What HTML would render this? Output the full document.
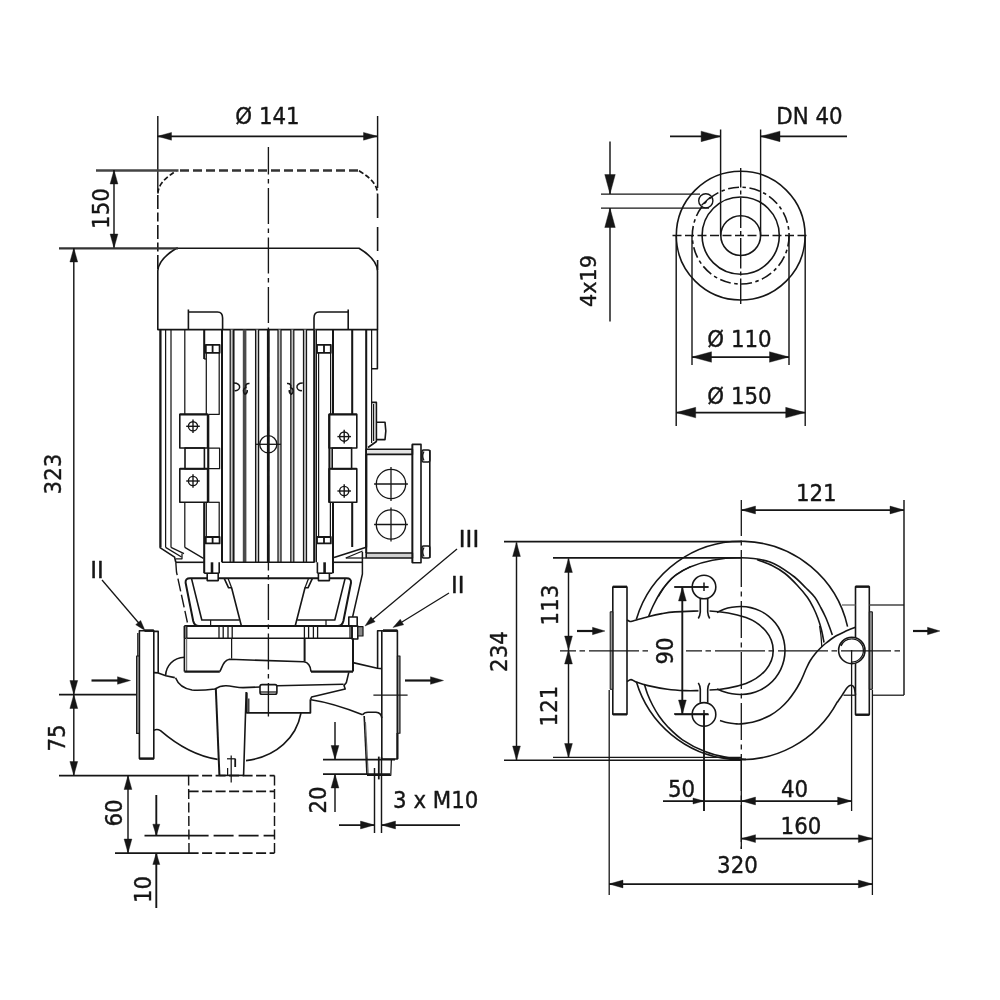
<!DOCTYPE html>
<html lang="en">
<head>
<meta charset="utf-8">
<title>Inline pump dimension drawing</title>
<style>
html,body{margin:0;padding:0;background:#fff;}
body{width:1000px;height:1000px;overflow:hidden;}
svg{display:block;}
svg line,svg path,svg rect,svg circle{fill:none;stroke:#161616;stroke-linecap:butt;stroke-linejoin:round;}
svg .ah{fill:#161616;stroke:#161616;stroke-width:0.4;stroke-linejoin:miter;}
svg .t{font-family:"DejaVu Sans","Liberation Sans",sans-serif;font-weight:400;fill:#161616;stroke:#161616;stroke-width:0.4px;stroke-linejoin:round;}
</style>
</head>
<body>
<svg width="1000" height="1000" viewBox="0 0 1000 1000">
<rect x="0" y="0" width="1000" height="1000" style="fill:#fff;stroke:none"/>
<g id="motor">
<path d="M180,170.5 L358,170.5" stroke-width="2.3" stroke-dasharray="9 4" style="stroke:#333"/>
<path d="M157.9,193.5 C158.3,185 164.5,178 176.5,170.8" stroke-width="1.7" stroke-dasharray="5 2.5"/>
<path d="M359,170.8 C371,178 377.2,185 377.5,193.5" stroke-width="1.7" stroke-dasharray="5 2.5"/>
<line x1="157.8" y1="195" x2="157.8" y2="270" stroke-width="1.6" stroke-dasharray="14 3.5 9 3.5"/>
<line x1="377.6" y1="194" x2="377.6" y2="270" stroke-width="1.6" stroke-dasharray="24 9"/>
<path d="M157.8,329.6 L157.8,271 C158.2,262.5 164.5,255.5 176.5,248.3 L359,248.3 C371,255.5 377.2,262.5 377.5,271 L377.5,329.6 Z" stroke-width="1.6"/>
<path d="M188.4,329.6 L188.4,309.6 M188.4,312 L217.5,312 Q222.6,312 222.6,318 L222.6,329.6" stroke-width="1.6"/>
<path d="M348.2,329.6 L348.2,309.6 M348.2,312 L319.1,312 Q314.0,312 314.0,318 L314.0,329.6" stroke-width="1.6"/>
<rect x="230.2" y="329.6" width="3.4" height="232.7" style="fill:#c2c2c2;stroke:none"/>
<rect x="255.6" y="329.6" width="3.0" height="232.7" style="fill:#c2c2c2;stroke:none"/>
<rect x="278" y="329.6" width="3" height="232.7" style="fill:#c2c2c2;stroke:none"/>
<rect x="290.8" y="329.6" width="3.0" height="232.7" style="fill:#c2c2c2;stroke:none"/>
<rect x="303.5" y="329.6" width="3.0" height="232.7" style="fill:#c2c2c2;stroke:none"/>
<rect x="314.2" y="329.6" width="2.2" height="232.7" style="fill:#c2c2c2;stroke:none"/>
<line x1="165.6" y1="329.6" x2="165.6" y2="547.4" stroke-width="1.25"/>
<line x1="371.6" y1="329.6" x2="371.6" y2="443" stroke-width="1.25"/>
<line x1="222" y1="329.6" x2="222" y2="562.3" stroke-width="2.05"/>
<line x1="230.2" y1="329.6" x2="230.2" y2="562.3" stroke-width="1.25"/>
<line x1="233.6" y1="329.6" x2="233.6" y2="562.3" stroke-width="1.9"/>
<line x1="244.6" y1="329.6" x2="244.6" y2="562.3" stroke-width="3.6" style="stroke:#4a4a4a"/>
<line x1="255.6" y1="329.6" x2="255.6" y2="562.3" stroke-width="1.25"/>
<line x1="258.6" y1="329.6" x2="258.6" y2="562.3" stroke-width="1.25"/>
<line x1="278" y1="329.6" x2="278" y2="562.3" stroke-width="1.25"/>
<line x1="281" y1="329.6" x2="281" y2="562.3" stroke-width="1.25"/>
<line x1="290.8" y1="329.6" x2="290.8" y2="562.3" stroke-width="1.25"/>
<line x1="293.8" y1="329.6" x2="293.8" y2="562.3" stroke-width="1.25"/>
<line x1="303.5" y1="329.6" x2="303.5" y2="562.3" stroke-width="1.25"/>
<line x1="306.5" y1="329.6" x2="306.5" y2="562.3" stroke-width="1.25"/>
<line x1="314.2" y1="329.6" x2="314.2" y2="562.3" stroke-width="2.05"/>
<line x1="316.4" y1="329.6" x2="316.4" y2="562.3" stroke-width="1.25"/>
<path d="M233.6,383 C238,383 240,385 239.6,387.5 C239.2,390 236.5,391 234.5,390.6" stroke-width="1.5"/>
<path d="M249.5,383.5 C246.5,383 245,385.5 246,387.5 C243,388.5 242.6,392 245,394.2 C246.5,393.5 247.5,392 247.2,390" stroke-width="1.5"/>
<path d="M302.8,383 C298.6,383 296.6,385 297,387.5 C297.4,390 300,391 302,390.6" stroke-width="1.5"/>
<path d="M287,383.5 C290,383 291.5,385.5 290.5,387.5 C293.5,388.5 294,392 291.5,394.2 C290,393.5 289,392 289.3,390" stroke-width="1.5"/>
<line x1="204.2" y1="329.6" x2="204.2" y2="359" stroke-width="2.05"/>
<line x1="204.2" y1="359" x2="206.3" y2="359" stroke-width="1.25"/>
<line x1="206.3" y1="353" x2="206.3" y2="414.4" stroke-width="1.25"/>
<line x1="219.2" y1="353" x2="219.2" y2="414.4" stroke-width="1.25"/>
<line x1="206.3" y1="502.3" x2="206.3" y2="537" stroke-width="1.25"/>
<line x1="219.2" y1="502.3" x2="219.2" y2="537" stroke-width="1.25"/>
<line x1="204.2" y1="502.3" x2="204.2" y2="573.2" stroke-width="2.05"/>
<line x1="333" y1="329.6" x2="333" y2="414.4" stroke-width="2.05"/>
<line x1="330.6" y1="353" x2="330.6" y2="414.4" stroke-width="1.25"/>
<line x1="318.6" y1="353" x2="318.6" y2="537" stroke-width="1.25"/>
<line x1="330.4" y1="502.3" x2="330.4" y2="537" stroke-width="1.25"/>
<line x1="333" y1="502.3" x2="333" y2="573.2" stroke-width="2.05"/>
<rect x="205.8" y="344.8" width="13.799999999999983" height="8.0" stroke-width="1.8"/>
<line x1="212.6" y1="344.8" x2="212.6" y2="352.8" stroke-width="1.8"/>
<rect x="205.8" y="537" width="13.799999999999983" height="6.399999999999977" stroke-width="1.8"/>
<line x1="212.6" y1="537" x2="212.6" y2="543.4" stroke-width="1.8"/>
<line x1="204.2" y1="573.2" x2="219.2" y2="573.2" stroke-width="1.6"/>
<line x1="219.2" y1="562.3" x2="219.2" y2="573.2" stroke-width="1.6"/>
<line x1="212" y1="562.3" x2="212" y2="573.2" stroke-width="2.6"/>
<path d="M207.2,573.2 L207.2,580.6 L218.2,580.6 L218.2,573.2" stroke-width="1.6"/>
<rect x="179.8" y="414.4" width="27.799999999999983" height="33.60000000000002" stroke-width="1.6"/>
<rect x="179.8" y="468.7" width="27.799999999999983" height="33.60000000000002" stroke-width="1.6"/>
<line x1="179.8" y1="414.4" x2="207.6" y2="414.4" stroke-width="1.9"/>
<line x1="179.8" y1="468.7" x2="207.6" y2="468.7" stroke-width="1.9"/>
<rect x="185" y="448" width="19.400000000000006" height="20.69999999999999" stroke-width="1.6"/>
<rect x="317.0" y="344.8" width="13.800000000000011" height="8.0" stroke-width="1.8"/>
<line x1="324.0" y1="344.8" x2="324.0" y2="352.8" stroke-width="1.8"/>
<rect x="317.0" y="537" width="13.800000000000011" height="6.399999999999977" stroke-width="1.8"/>
<line x1="324.0" y1="537" x2="324.0" y2="543.4" stroke-width="1.8"/>
<line x1="332.4" y1="573.2" x2="317.4" y2="573.2" stroke-width="1.6"/>
<line x1="317.4" y1="562.3" x2="317.4" y2="573.2" stroke-width="1.6"/>
<line x1="324.6" y1="562.3" x2="324.6" y2="573.2" stroke-width="2.6"/>
<path d="M329.4,573.2 L329.4,580.6 L318.4,580.6 L318.4,573.2" stroke-width="1.6"/>
<rect x="329.0" y="414.4" width="27.80000000000001" height="33.60000000000002" stroke-width="1.6"/>
<rect x="329.0" y="468.7" width="27.80000000000001" height="33.60000000000002" stroke-width="1.6"/>
<line x1="356.8" y1="414.4" x2="329.0" y2="414.4" stroke-width="1.9"/>
<line x1="356.8" y1="468.7" x2="329.0" y2="468.7" stroke-width="1.9"/>
<rect x="332.2" y="448" width="19.400000000000034" height="20.69999999999999" stroke-width="1.6"/>
<line x1="208.3" y1="414.4" x2="208.3" y2="502.3" stroke-width="2.05"/>
<line x1="208.3" y1="414.4" x2="219.6" y2="414.4" stroke-width="1.25"/>
<rect x="208.3" y="448" width="11.299999999999983" height="20.69999999999999" stroke-width="1.25"/>
<line x1="208.3" y1="502.3" x2="219.6" y2="502.3" stroke-width="1.25"/>
<line x1="329.4" y1="414.4" x2="329.4" y2="502.3" stroke-width="2.05"/>
<line x1="160.4" y1="329.6" x2="160.4" y2="547.4" stroke-width="2.3"/>
<line x1="171" y1="329.6" x2="171" y2="547.4" stroke-width="1.25"/>
<line x1="184.8" y1="329.6" x2="184.8" y2="414.4" stroke-width="1.25"/>
<line x1="184.8" y1="502.3" x2="184.8" y2="547.4" stroke-width="1.25"/>
<circle cx="193" cy="426.3" r="4.6" stroke-width="1.4"/>
<line x1="186.20000000000002" y1="426.3" x2="199.79999999999998" y2="426.3" stroke-width="1.4"/>
<line x1="193" y1="419.5" x2="193" y2="433.1" stroke-width="1.4"/>
<circle cx="193" cy="481" r="4.6" stroke-width="1.4"/>
<line x1="186.20000000000002" y1="481" x2="199.79999999999998" y2="481" stroke-width="1.4"/>
<line x1="193" y1="474.2" x2="193" y2="487.8" stroke-width="1.4"/>
<path d="M159.6,547.4 L174.6,557.2 L175.8,562.3" stroke-width="1.6"/>
<path d="M165.6,547.4 L181.5,557" stroke-width="1.25"/>
<path d="M175.8,558.8 L182,558.8 L182,553.6" stroke-width="1.25"/>
<path d="M171,547.4 L184,553.6" stroke-width="1.25"/>
<path d="M184.8,547.4 L203.4,558.4" stroke-width="1.25"/>
<line x1="352.2" y1="329.6" x2="352.2" y2="414.4" stroke-width="2.05"/>
<line x1="352.2" y1="502.3" x2="352.2" y2="547" stroke-width="2.05"/>
<line x1="366.2" y1="329.6" x2="366.2" y2="547.4" stroke-width="2.05"/>
<path d="M377.4,329.6 L377.4,368.8 L371.6,368.8" stroke-width="1.6"/>
<circle cx="344.2" cy="436.6" r="4.6" stroke-width="1.4"/>
<line x1="337.4" y1="436.6" x2="351.0" y2="436.6" stroke-width="1.4"/>
<line x1="344.2" y1="429.8" x2="344.2" y2="443.40000000000003" stroke-width="1.4"/>
<circle cx="344.2" cy="491" r="4.6" stroke-width="1.4"/>
<line x1="337.4" y1="491" x2="351.0" y2="491" stroke-width="1.4"/>
<line x1="344.2" y1="484.2" x2="344.2" y2="497.8" stroke-width="1.4"/>
<path d="M371.6,402.4 L376.4,402.4 L376.4,441.5 L368,447.5" stroke-width="1.6"/>
<path d="M373.6,404 L373.6,441" stroke-width="1.25"/>
<path d="M376.4,422.2 L385,422.2 Q386.6,431 385,439.6 L376.4,439.6" stroke-width="1.6"/>
<line x1="268.3" y1="329.6" x2="268.3" y2="562.3" stroke-width="2.8"/>
<circle cx="268.3" cy="444.3" r="8.6" stroke-width="1.3"/>
<line x1="255.7" y1="444.3" x2="280.90000000000003" y2="444.3" stroke-width="1.3"/>
<line x1="268.3" y1="431.7" x2="268.3" y2="456.90000000000003" stroke-width="1.3"/>
<line x1="175.8" y1="562.3" x2="204" y2="562.3" stroke-width="1.6"/>
<line x1="222" y1="562.3" x2="314.6" y2="562.3" stroke-width="1.6"/>
<line x1="333.4" y1="562.3" x2="362.4" y2="562.3" stroke-width="1.6"/>
<path d="M366.2,547.2 L334,557.6" stroke-width="1.6"/>
<path d="M362.6,551 L345.8,558" stroke-width="1.25"/>
<line x1="345.8" y1="558" x2="366" y2="558" stroke-width="1.25"/>
<rect x="366.2" y="449.3" width="46.19999999999999" height="5.099999999999966" stroke-width="1.6" style="fill:#e4e4e4"/>
<line x1="366.2" y1="454.4" x2="366.2" y2="553" stroke-width="2.05"/>
<line x1="412.4" y1="444.4" x2="412.4" y2="562.8" stroke-width="1.6"/>
<rect x="366.2" y="553" width="46.19999999999999" height="5" stroke-width="1.6" style="fill:#d0d0d0"/>
<rect x="412.4" y="444.4" width="8.600000000000023" height="118.39999999999998" stroke-width="1.6"/>
<line x1="429.8" y1="450" x2="429.8" y2="558" stroke-width="1.6"/>
<rect x="422" y="450" width="7.800000000000011" height="12" stroke-width="1.6" rx="1.5"/>
<rect x="422" y="546" width="7.800000000000011" height="12" stroke-width="1.6" rx="1.5"/>
<path d="M424,451.5 q-2.5,4.5 0,9" stroke-width="1.25"/>
<path d="M424,547.5 q-2.5,4.5 0,9" stroke-width="1.25"/>
<circle cx="391" cy="484" r="14.7" stroke-width="1.3"/>
<line x1="374.1" y1="484" x2="407.9" y2="484" stroke-width="1.3"/>
<line x1="391" y1="467.1" x2="391" y2="500.9" stroke-width="1.3"/>
<circle cx="391" cy="524.5" r="14.7" stroke-width="1.3"/>
<line x1="374.1" y1="524.5" x2="407.9" y2="524.5" stroke-width="1.3"/>
<line x1="391" y1="507.6" x2="391" y2="541.4000000000001" stroke-width="1.3"/>
</g>
<g id="lantern">
<path d="M175.8,562.3 L176.5,572 L187.4,622.5" stroke-width="1.4" stroke-dasharray="13 3.5"/>
<path d="M362.4,552 L362.4,574 L352.6,617" stroke-width="1.5"/>
<path d="M207.2,578.3 L190,578.3 Q185.2,578.3 185.6,582.8 L193.2,621 Q194.4,626 199,626" stroke-width="2.0"/>
<path d="M191.6,578.9 L201.8,620 L239.4,620" stroke-width="1.6"/>
<path d="M224.2,578.3 L228.6,587.8 L231.6,587.8 L241.4,626" stroke-width="1.6"/>
<path d="M228,578.3 L231.6,587.8" stroke-width="1.25"/>
<line x1="210.6" y1="620" x2="210.6" y2="626" stroke-width="1.25"/>
<line x1="219" y1="626" x2="219" y2="638.3" stroke-width="1.3"/>
<line x1="223.2" y1="626" x2="223.2" y2="638.3" stroke-width="1.3"/>
<line x1="228" y1="626" x2="228" y2="638.3" stroke-width="1.3"/>
<line x1="232.2" y1="626" x2="232.2" y2="638.3" stroke-width="1.3"/>
<line x1="186.6" y1="626" x2="186.6" y2="638.3" stroke-width="1.25"/>
<path d="M329.4,578.3 L346.6,578.3 Q351.4,578.3 351.0,582.8 L343.4,621 Q342.2,626 337.6,626" stroke-width="2.0"/>
<path d="M345.0,578.9 L334.8,620 L297.2,620" stroke-width="1.6"/>
<path d="M312.4,578.3 L308.0,587.8 L305.0,587.8 L295.2,626" stroke-width="1.6"/>
<path d="M308.6,578.3 L305.0,587.8" stroke-width="1.25"/>
<line x1="326.0" y1="620" x2="326.0" y2="626" stroke-width="1.25"/>
<line x1="317.6" y1="626" x2="317.6" y2="638.3" stroke-width="1.3"/>
<line x1="313.4" y1="626" x2="313.4" y2="638.3" stroke-width="1.3"/>
<line x1="308.6" y1="626" x2="308.6" y2="638.3" stroke-width="1.3"/>
<line x1="304.4" y1="626" x2="304.4" y2="638.3" stroke-width="1.3"/>
<line x1="350.0" y1="626" x2="350.0" y2="638.3" stroke-width="1.25"/>
<line x1="218.2" y1="578.3" x2="318.4" y2="578.3" stroke-width="2.0"/>
<line x1="184.4" y1="626" x2="352" y2="626" stroke-width="2.0"/>
<line x1="184.4" y1="638.3" x2="352" y2="638.3" stroke-width="1.6"/>
<rect x="184.4" y="626" width="2.4000000000000057" height="12.299999999999955" stroke-width="1.0" style="fill:#9a9a9a"/>
<line x1="184.4" y1="626" x2="184.4" y2="638.3" stroke-width="1.6"/>
<line x1="352" y1="626" x2="352" y2="638.3" stroke-width="1.6"/>
<rect x="348.8" y="617" width="8.399999999999977" height="9" stroke-width="1.6"/>
<rect x="352" y="626" width="5.800000000000011" height="13" stroke-width="1.6"/>
<rect x="357.8" y="626.6" width="5.199999999999989" height="9.399999999999977" stroke-width="1.2" style="fill:#888"/>
</g>
<g id="pump-front">
<rect x="139.4" y="630.8" width="14.400000000000006" height="127.80000000000007" stroke-width="1.6"/>
<line x1="144.5" y1="630.6" x2="153.8" y2="630.6" stroke-width="2.6"/>
<line x1="139.4" y1="758.6" x2="153.8" y2="758.6" stroke-width="2.2"/>
<line x1="137.8" y1="633" x2="137.8" y2="656" stroke-width="1.25"/>
<rect x="136.6" y="656" width="2.8000000000000114" height="77.39999999999998" stroke-width="1.1" style="fill:#8a8a8a"/>
<path d="M153.8,631.4 L158.2,631.4 L158.2,672.8" stroke-width="1.6"/>
<path d="M153.8,672.6 L158.2,672.9 L165.8,675.8 L174.8,677.6" stroke-width="1.6"/>
<path d="M165.6,675.6 C166,666 173,657.8 184.4,657.3" stroke-width="1.6"/>
<path d="M175.5,677.8 C178,684 183,688.6 192,690 C200,690.6 208,689.8 215,689 C218,687 221,685.7 226,685.8 C232,686 237,687.6 243,687.6 L260,687" stroke-width="1.6"/>
<path d="M153.8,730.4 C156,729 158.5,729.4 160.5,730.6 C176,744 196,756 217.6,759.4" stroke-width="1.6"/>
<line x1="184.4" y1="638.3" x2="184.4" y2="671.6" stroke-width="1.6"/>
<line x1="186.6" y1="638.3" x2="186.6" y2="671.6" stroke-width="1.25" style="stroke:#777"/>
<line x1="184.4" y1="671.6" x2="219.8" y2="671.6" stroke-width="2.4"/>
<line x1="231.6" y1="638.3" x2="231.6" y2="658.6" stroke-width="1.25"/>
<path d="M219.8,671.6 C222.5,667 223,660.5 229.4,659.3 L303.8,661.8 C309,662.5 310.6,667 311,671.6" stroke-width="1.6"/>
<line x1="304.6" y1="638.3" x2="304.6" y2="661.6" stroke-width="2.0"/>
<line x1="311" y1="671.6" x2="353" y2="671.6" stroke-width="2.4"/>
<line x1="353" y1="638.3" x2="353" y2="671.6" stroke-width="2.0"/>
<path d="M277,685.8 L343.6,684.2" stroke-width="1.6"/>
<path d="M348.8,672.4 L346.4,682.4 L344,685.4 L345.2,689 L311.6,697 L310.4,699.6" stroke-width="1.6"/>
<path d="M262,684.6 L275,684.6 Q276.9,684.6 276.9,686.6 L276.9,692.2 Q276.9,694.3 275,694.3 L262,694.3 Q260,694.3 260,692.2 L260,686.6 Q260,684.6 262,684.6 Z" stroke-width="1.6"/>
<line x1="260" y1="692" x2="276.9" y2="692" stroke-width="1.25"/>
<path d="M246.8,692.4 L246.8,712.8 L310.4,712.8 L310.4,699.6" stroke-width="1.8"/>
<line x1="248.8" y1="698.4" x2="248.8" y2="712.8" stroke-width="1.25"/>
<line x1="215.8" y1="688" x2="219.4" y2="775" stroke-width="2.0"/>
<line x1="246.2" y1="692" x2="243.6" y2="775" stroke-width="1.6"/>
<path d="M301,713 C296.5,737 277,757 246,760.6" stroke-width="1.6"/>
<line x1="231.2" y1="755.6" x2="231.2" y2="782.6" stroke-width="1.25"/>
<line x1="227" y1="758.8" x2="235.6" y2="758.8" stroke-width="1.25"/>
<line x1="235.2" y1="759" x2="235.2" y2="767" stroke-width="1.8"/>
<line x1="227.6" y1="768" x2="227.6" y2="775" stroke-width="1.25"/>
<line x1="219.4" y1="775.4" x2="244" y2="775.4" stroke-width="1.6"/>
<path d="M353,662.6 L377.4,668.2 L381.8,668.6" stroke-width="1.6"/>
<path d="M311,699.8 C330,702.6 348,709 362.6,714.8" stroke-width="1.6"/>
<path d="M362.6,714.8 C364,712.6 366,712.2 368,712.2 L376,712.3 C379.5,712.6 381.4,714.5 381.8,718" stroke-width="1.6"/>
<line x1="364.2" y1="716" x2="367" y2="775" stroke-width="1.6"/>
<line x1="365.4" y1="722" x2="368.2" y2="775" stroke-width="1.25" style="stroke:#666"/>
<path d="M381.8,630.8 L377.6,630.8 L377.6,668.4" stroke-width="1.6"/>
<rect x="381.8" y="630.8" width="15.599999999999966" height="128.20000000000005" stroke-width="1.6"/>
<line x1="383" y1="630.6" x2="397.4" y2="630.6" stroke-width="2.6"/>
<line x1="397.4" y1="733" x2="397.4" y2="759" stroke-width="2.0"/>
<rect x="397.4" y="656" width="2.6000000000000227" height="77.20000000000005" stroke-width="1.1" style="fill:#8a8a8a"/>
<line x1="373.4" y1="695" x2="407.6" y2="695" stroke-width="1.25"/>
<path d="M367,775.3 L390.8,775.3 L391.4,759.4" stroke-width="1.25"/>
<line x1="378.8" y1="756.6" x2="378.8" y2="779.4" stroke-width="1.8"/>
</g>
<g id="flange">
<circle cx="740.7" cy="235.6" r="64.4" stroke-width="1.6"/>
<circle cx="740.7" cy="235.6" r="48.4" stroke-width="1.6" stroke-dasharray="11 3.5 3.5 3.5"/>
<circle cx="740.7" cy="235.6" r="38.6" stroke-width="1.6"/>
<circle cx="740.7" cy="235.6" r="19.9" stroke-width="1.6"/>
<circle cx="705.8" cy="200.8" r="7.1" stroke-width="1.4"/>
<line x1="701.6" y1="205.2" x2="710.2" y2="197.2" stroke-width="1.3"/>
</g>
<g id="topview">
<path d="M636.29,619.50 A109.2,109.2 0 0 1 847.56,626.64" stroke-width="1.6"/>
<path d="M837.34,701.91 A109.2,109.2 0 0 1 636.29,681.50" stroke-width="1.6"/>
<path d="M648.70,616.30 C649.42,614.58 651.12,609.88 653.00,606.00 C654.88,602.12 657.67,596.75 660.00,593.00 C662.33,589.25 664.50,586.40 667.00,583.50 C669.50,580.60 671.17,578.35 675.00,575.60 C678.83,572.85 683.75,569.57 690.00,567.00 C696.25,564.43 704.00,561.73 712.50,560.20 C721.00,558.67 731.42,557.50 741.00,557.80 C750.58,558.10 761.42,559.05 770.00,562.00 C778.58,564.95 786.50,571.17 792.50,575.50 C798.50,579.83 802.25,584.33 806.00,588.00 C809.75,591.67 812.50,594.17 815.00,597.50 C817.50,600.83 819.25,604.75 821.00,608.00 C822.75,611.25 824.08,613.83 825.50,617.00 C826.92,620.17 828.37,624.00 829.50,627.00 C830.63,630.00 831.83,633.67 832.30,635.00" stroke-width="1.6"/>
<path d="M658.50,596.50 C659.75,594.58 662.92,588.75 666.00,585.00 C669.08,581.25 672.92,577.07 677.00,574.00 C681.08,570.93 688.25,567.83 690.50,566.60" stroke-width="1.2"/>
<path d="M757.00,559.60 C759.50,560.58 767.33,563.18 772.00,565.50 C776.67,567.82 780.83,570.25 785.00,573.50 C789.17,576.75 793.25,581.00 797.00,585.00 C800.75,589.00 804.75,593.67 807.50,597.50 C810.25,601.33 811.75,604.50 813.50,608.00 C815.25,611.50 816.67,614.83 818.00,618.50 C819.33,622.17 820.50,626.00 821.50,630.00 C822.50,634.00 823.58,640.42 824.00,642.50" stroke-width="1.6"/>
<path d="M819.60,626.00 C819.83,627.67 820.63,632.50 821.00,636.00 C821.37,639.50 821.67,645.17 821.80,647.00" stroke-width="1.25"/>
<path d="M644.30,684.00 C644.83,685.67 646.13,690.50 647.50,694.00 C648.87,697.50 650.58,701.33 652.50,705.00 C654.42,708.67 656.50,712.42 659.00,716.00 C661.50,719.58 663.58,722.53 667.50,726.50 C671.42,730.47 676.25,735.62 682.50,739.80 C688.75,743.98 697.50,748.63 705.00,751.60 C712.50,754.57 720.67,756.30 727.50,757.60 C734.33,758.90 742.92,759.10 746.00,759.40" stroke-width="1.6"/>
<path d="M627.00,620.00 C627.42,620.20 628.67,621.00 629.50,621.20 C630.33,621.40 628.92,621.95 632.00,621.20 C635.08,620.45 643.00,617.97 648.00,616.70 C653.00,615.43 657.50,614.40 662.00,613.60 C666.50,612.80 668.92,612.33 675.00,611.90 C681.08,611.47 694.58,611.15 698.50,611.00" stroke-width="1.6"/>
<path d="M709.5,611 C722,611.4 735,613.8 746,617.6 C762,623.5 773.2,636 773.2,650.5 C773.2,665 762,677.5 746,683.4 C735,687.2 722,689.6 709.5,690" stroke-width="1.6"/>
<path d="M698.50,690.60 C696.25,690.60 690.17,690.83 685.00,690.60 C679.83,690.37 673.67,690.03 667.50,689.20 C661.33,688.37 653.25,686.82 648.00,685.60 C642.75,684.38 638.83,682.90 636.00,681.90 C633.17,680.90 632.50,679.65 631.00,679.60 C629.50,679.55 627.67,681.27 627.00,681.60" stroke-width="1.6"/>
<path d="M717.00,612.40 C718.17,611.87 721.50,610.05 724.00,609.20 C726.50,608.35 729.17,607.75 732.00,607.30 C734.83,606.85 737.87,606.45 741.00,606.50 C744.13,606.55 747.61,606.88 750.79,607.60 C753.97,608.33 757.15,609.44 760.09,610.86 C763.03,612.27 765.88,614.06 768.43,616.10 C770.99,618.13 773.37,620.51 775.40,623.07 C777.44,625.62 779.23,628.47 780.64,631.41 C782.06,634.35 783.17,637.53 783.90,640.71 C784.62,643.89 785.00,647.24 785.00,650.50 C785.00,653.76 784.62,657.11 783.90,660.29 C783.17,663.47 782.06,666.65 780.64,669.59 C779.23,672.53 777.44,675.38 775.40,677.93 C773.37,680.49 770.99,682.87 768.43,684.90 C765.88,686.94 763.03,688.73 760.09,690.14 C757.15,691.56 753.97,692.67 750.79,693.40 C747.61,694.12 744.13,694.43 741.00,694.50 C737.87,694.57 734.83,694.25 732.00,693.80 C729.17,693.35 726.50,692.62 724.00,691.80 C721.50,690.98 718.17,689.38 717.00,688.90" stroke-width="1.6"/>
<path d="M720.00,720.60 C721.33,720.97 725.50,722.28 728.00,722.80 C730.50,723.32 732.83,723.52 735.00,723.70 C737.17,723.88 737.67,724.27 741.00,723.90 C744.33,723.53 750.17,722.90 755.00,721.50 C759.83,720.10 765.83,717.67 770.00,715.50 C774.17,713.33 777.00,711.00 780.00,708.50 C783.00,706.00 785.50,703.42 788.00,700.50 C790.50,697.58 793.00,694.00 795.00,691.00 C797.00,688.00 798.58,685.17 800.00,682.50 C801.42,679.83 802.50,677.25 803.50,675.00 C804.50,672.75 804.92,671.33 806.00,669.00 C807.08,666.67 808.50,663.50 810.00,661.00 C811.50,658.50 813.33,656.08 815.00,654.00 C816.67,651.92 818.25,650.25 820.00,648.50 C821.75,646.75 823.00,645.50 825.50,643.50 C828.00,641.50 831.75,638.50 835.00,636.50 C838.25,634.50 841.58,633.03 845.00,631.50 C848.42,629.97 853.75,628.00 855.50,627.30" stroke-width="1.6"/>
<circle cx="704" cy="587" r="11.8" stroke-width="1.6"/>
<line x1="675" y1="587" x2="708.8" y2="587" stroke-width="1.7"/>
<line x1="704" y1="582.5" x2="704" y2="591" stroke-width="1.5"/>
<path d="M700.3,598.6 L700.3,612 Q700,616 698.3,618.5" stroke-width="1.6"/>
<path d="M707.7,598.6 L707.7,612 Q708,616 709.7,618.5" stroke-width="1.6"/>
<circle cx="704" cy="714.4" r="11.8" stroke-width="1.6"/>
<line x1="675" y1="714.4" x2="708.8" y2="714.4" stroke-width="1.7"/>
<line x1="704" y1="709.9" x2="704" y2="718.4" stroke-width="1.5"/>
<path d="M700.3,702.8 L700.3,689.4 Q700,685.4 698.3,682.9" stroke-width="1.6"/>
<path d="M707.7,702.8 L707.7,689.4 Q708,685.4 709.7,682.9" stroke-width="1.6"/>
<rect x="612.8" y="587" width="14.200000000000045" height="127.20000000000005" stroke-width="1.6"/>
<line x1="612.8" y1="586.8" x2="627" y2="586.8" stroke-width="2.4"/>
<line x1="612.8" y1="714.4" x2="627" y2="714.4" stroke-width="2.2"/>
<rect x="610.2" y="611.8" width="2.599999999999909" height="77.5" stroke-width="1.0" style="fill:#999"/>
<rect x="855.5" y="586.8" width="13.799999999999955" height="127.80000000000007" stroke-width="1.6"/>
<line x1="855.5" y1="586.6" x2="869.3" y2="586.6" stroke-width="2.4"/>
<line x1="855.5" y1="714.8" x2="869.3" y2="714.8" stroke-width="2.2"/>
<rect x="869.3" y="611.8" width="3.1000000000000227" height="77.5" stroke-width="1.0" style="fill:#8a8a8a"/>
<circle cx="851.8" cy="650.4" r="13.2" stroke-width="1.6" style="fill:#fff"/>
<path d="M851.8,638.8 A11.6,11.6 0 0 1 851.8,662" stroke-width="1.25"/>
<path d="M851.8,638.8 A11.6,11.6 0 0 0 841,646" stroke-width="1.25"/>
<line x1="842" y1="605" x2="855.5" y2="605" stroke-width="1.3" style="stroke:#666"/>
<line x1="869.3" y1="605" x2="904" y2="605" stroke-width="1.3" style="stroke:#444"/>
<line x1="843.5" y1="695.2" x2="855.5" y2="695.2" stroke-width="1.25"/>
<line x1="872.4" y1="695.2" x2="904" y2="695.2" stroke-width="1.25"/>
<path d="M837.30,702.20 C837.88,701.37 839.68,698.85 840.80,697.20 C841.92,695.55 842.88,693.97 844.00,692.30 C845.12,690.63 846.33,688.37 847.50,687.20 C848.67,686.03 849.88,685.23 851.00,685.30 C852.12,685.37 853.45,685.98 854.20,687.60 C854.95,689.22 855.28,693.77 855.50,695.00" stroke-width="1.6"/>
</g>
<g id="dims-front" opacity="0.999">
<line x1="157.8" y1="116" x2="157.8" y2="192" stroke-width="1.45"/>
<line x1="377.6" y1="116" x2="377.6" y2="188" stroke-width="1.45"/>
<line x1="157.5" y1="136.3" x2="377.5" y2="136.3" stroke-width="1.75"/>
<path d="M157.50,136.30 L171.50,132.40 L171.50,140.20 Z" class="ah"/>
<path d="M377.50,136.30 L363.50,140.20 L363.50,132.40 Z" class="ah"/>
<text class="t" transform="translate(267.5,124.4) scale(0.95,1)" font-size="22.5" text-anchor="middle">Ø 141</text>
<line x1="268.4" y1="147" x2="268.4" y2="716.5" stroke-width="1.35" stroke-dasharray="36 4.5 4.5 4.5" stroke-dashoffset="8.5"/>
<line x1="96" y1="170.5" x2="178.5" y2="170.5" stroke-width="2.4" style="stroke:#444"/>
<line x1="114" y1="170" x2="114" y2="248" stroke-width="1.45"/>
<path d="M114.00,170.00 L117.90,184.00 L110.10,184.00 Z" class="ah"/>
<path d="M114.00,248.00 L110.10,234.00 L117.90,234.00 Z" class="ah"/>
<text class="t" transform="translate(108.5,208.5) rotate(-90) scale(0.95,1)" font-size="22.5" text-anchor="middle">150</text>
<line x1="59" y1="248.3" x2="178" y2="248.3" stroke-width="2.2" style="stroke:#333"/>
<line x1="73.8" y1="248" x2="73.8" y2="694.5" stroke-width="1.45"/>
<path d="M73.80,248.00 L77.70,262.00 L69.90,262.00 Z" class="ah"/>
<path d="M73.80,694.50 L69.90,680.50 L77.70,680.50 Z" class="ah"/>
<text class="t" transform="translate(60.8,474) rotate(-90) scale(0.95,1)" font-size="22.5" text-anchor="middle">323</text>
<line x1="59" y1="694.5" x2="136" y2="694.5" stroke-width="1.75"/>
<line x1="73.8" y1="694.5" x2="73.8" y2="775.5" stroke-width="1.45"/>
<path d="M73.80,694.50 L77.70,708.50 L69.90,708.50 Z" class="ah"/>
<path d="M73.80,775.50 L69.90,761.50 L77.70,761.50 Z" class="ah"/>
<text class="t" transform="translate(64.5,738) rotate(-90) scale(0.95,1)" font-size="22.5" text-anchor="middle">75</text>
<line x1="59" y1="775.5" x2="189" y2="775.5" stroke-width="1.75"/>
<line x1="128" y1="775.5" x2="128" y2="853" stroke-width="1.45"/>
<path d="M128.00,775.50 L131.90,789.50 L124.10,789.50 Z" class="ah"/>
<path d="M128.00,853.00 L124.10,839.00 L131.90,839.00 Z" class="ah"/>
<text class="t" transform="translate(122,813) rotate(-90) scale(0.95,1)" font-size="22.5" text-anchor="middle">60</text>
<line x1="144.5" y1="835.7" x2="189" y2="835.7" stroke-width="1.75"/>
<line x1="115" y1="853" x2="189" y2="853" stroke-width="1.75"/>
<line x1="156.3" y1="795" x2="156.3" y2="835.7" stroke-width="1.9"/>
<line x1="156.3" y1="853" x2="156.3" y2="908" stroke-width="1.9"/>
<path d="M156.30,835.70 L152.80,824.20 L159.80,824.20 Z" class="ah"/>
<path d="M156.30,853.00 L159.80,864.50 L152.80,864.50 Z" class="ah"/>
<text class="t" transform="translate(150.5,889.5) rotate(-90) scale(0.95,1)" font-size="22.5" text-anchor="middle">10</text>
<line x1="188.6" y1="775.5" x2="274.5" y2="775.5" stroke-width="1.75" stroke-dasharray="10 3.5"/>
<line x1="188.6" y1="791.3" x2="274.5" y2="791.3" stroke-width="1.75" stroke-dasharray="10 3.5"/>
<line x1="188.6" y1="835.7" x2="274.5" y2="835.7" stroke-width="1.75" stroke-dasharray="20 5"/>
<line x1="188.6" y1="853" x2="274.5" y2="853" stroke-width="1.75" stroke-dasharray="10 3.5"/>
<line x1="188.6" y1="775.5" x2="189" y2="853" stroke-width="1.45" stroke-dasharray="10 3.5"/>
<line x1="274.5" y1="775.5" x2="274.5" y2="853" stroke-width="1.45" stroke-dasharray="10 3.5"/>
<line x1="323" y1="759.5" x2="395" y2="759.5" stroke-width="1.75"/>
<line x1="323" y1="774" x2="390" y2="774" stroke-width="1.75"/>
<line x1="335" y1="722" x2="335" y2="759.5" stroke-width="1.45"/>
<line x1="335" y1="774" x2="335" y2="812" stroke-width="1.45"/>
<path d="M335.00,759.50 L331.10,745.50 L338.90,745.50 Z" class="ah"/>
<path d="M335.00,774.00 L338.90,788.00 L331.10,788.00 Z" class="ah"/>
<text class="t" transform="translate(326,800) rotate(-90) scale(0.95,1)" font-size="22.5" text-anchor="middle">20</text>
<line x1="374.5" y1="768" x2="374.5" y2="833" stroke-width="1.45"/>
<line x1="381.5" y1="757" x2="381.5" y2="833" stroke-width="1.45"/>
<line x1="339" y1="825" x2="374.5" y2="825" stroke-width="1.75"/>
<line x1="381.5" y1="825" x2="460" y2="825" stroke-width="1.75"/>
<path d="M374.50,825.00 L360.50,828.90 L360.50,821.10 Z" class="ah"/>
<path d="M381.50,825.00 L395.50,821.10 L395.50,828.90 Z" class="ah"/>
<text class="t" transform="translate(393,807.9) scale(0.95,1)" font-size="22.5" text-anchor="start">3 x M10</text>
<line x1="91.5" y1="680.5" x2="120" y2="680.5" stroke-width="2.2"/>
<path d="M130.50,680.50 L117.50,684.30 L117.50,676.70 Z" class="ah"/>
<line x1="405" y1="680.5" x2="432" y2="680.5" stroke-width="2.2"/>
<path d="M443.50,680.50 L430.50,684.30 L430.50,676.70 Z" class="ah"/>
<text class="t" transform="translate(97,577.5)" font-size="23" text-anchor="middle">II</text>
<line x1="102" y1="580" x2="143" y2="628" stroke-width="1.3"/>
<path d="M145.00,630.50 L135.71,624.63 L140.65,620.41 Z" class="ah"/>
<text class="t" transform="translate(469,546.5)" font-size="23" text-anchor="middle">III</text>
<line x1="457" y1="549" x2="372" y2="620" stroke-width="1.3"/>
<path d="M365.00,626.00 L370.95,616.76 L375.13,621.74 Z" class="ah"/>
<text class="t" transform="translate(457.7,593.1)" font-size="23" text-anchor="middle">II</text>
<line x1="449" y1="593" x2="402" y2="622" stroke-width="1.3"/>
<path d="M393.00,627.50 L400.25,619.24 L403.65,624.78 Z" class="ah"/>
</g>
<g id="dims-flange" opacity="0.999">
<line x1="720.6" y1="129.5" x2="720.6" y2="235.6" stroke-width="1.45"/>
<line x1="760.6" y1="129.5" x2="760.6" y2="235.6" stroke-width="1.4"/>
<line x1="670" y1="136.4" x2="720.6" y2="136.4" stroke-width="1.75"/>
<line x1="760.5" y1="136.4" x2="847" y2="136.4" stroke-width="1.75"/>
<path d="M720.60,136.40 L701.10,141.65 L701.10,131.15 Z" class="ah"/>
<path d="M760.50,136.40 L780.00,131.15 L780.00,141.65 Z" class="ah"/>
<text class="t" transform="translate(809.5,124.4) scale(0.95,1)" font-size="22.5" text-anchor="middle">DN 40</text>
<line x1="601" y1="194.2" x2="700" y2="194.2" stroke-width="1.3"/>
<line x1="601" y1="208.2" x2="709" y2="208.2" stroke-width="1.3"/>
<line x1="610" y1="141.5" x2="610" y2="194" stroke-width="1.45"/>
<line x1="610" y1="208" x2="610" y2="321.5" stroke-width="1.45"/>
<path d="M610.00,194.00 L604.75,174.50 L615.25,174.50 Z" class="ah"/>
<path d="M610.00,208.00 L615.25,227.50 L604.75,227.50 Z" class="ah"/>
<text class="t" transform="translate(595.6,281) rotate(-90) scale(0.95,1)" font-size="22" text-anchor="middle">4x19</text>
<line x1="672.5" y1="235.6" x2="809" y2="235.6" stroke-width="1.5" stroke-dasharray="9 3.5"/>
<line x1="740.7" y1="168" x2="740.7" y2="304" stroke-width="1.4" stroke-dasharray="30.5 3 4 3" stroke-dashoffset="11"/>
<line x1="692" y1="235.6" x2="692" y2="365" stroke-width="1.4"/>
<line x1="789" y1="235.6" x2="789" y2="365" stroke-width="1.45"/>
<line x1="692" y1="357" x2="789" y2="357" stroke-width="1.75"/>
<path d="M692.00,357.00 L711.50,351.75 L711.50,362.25 Z" class="ah"/>
<path d="M789.00,357.00 L769.50,362.25 L769.50,351.75 Z" class="ah"/>
<text class="t" transform="translate(739.5,346.9) scale(0.95,1)" font-size="22.5" text-anchor="middle">Ø 110</text>
<line x1="676.2" y1="235.6" x2="676.2" y2="426" stroke-width="1.45"/>
<line x1="805.2" y1="235.6" x2="805.2" y2="426" stroke-width="1.4"/>
<line x1="676.2" y1="412.6" x2="805.2" y2="412.6" stroke-width="1.75"/>
<path d="M676.20,412.60 L695.70,407.35 L695.70,417.85 Z" class="ah"/>
<path d="M805.20,412.60 L785.70,417.85 L785.70,407.35 Z" class="ah"/>
<text class="t" transform="translate(739.5,403.9) scale(0.95,1)" font-size="22.5" text-anchor="middle">Ø 150</text>
</g>
<g id="dims-top" opacity="0.999">
<line x1="741.3" y1="500" x2="741.3" y2="849" stroke-width="1.3" stroke-dasharray="37 4.5 5 4.5" stroke-dashoffset="1"/>
<line x1="904" y1="500" x2="904" y2="695" stroke-width="1.45"/>
<line x1="741.5" y1="510" x2="904" y2="510" stroke-width="1.75"/>
<path d="M741.50,510.00 L755.50,506.10 L755.50,513.90 Z" class="ah"/>
<path d="M904.00,510.00 L890.00,513.90 L890.00,506.10 Z" class="ah"/>
<text class="t" transform="translate(816.3,500.9) scale(0.95,1)" font-size="22.5" text-anchor="middle">121</text>
<line x1="741.3" y1="760" x2="741.3" y2="849" stroke-width="1.3"/>
<line x1="504" y1="541.6" x2="741" y2="541.6" stroke-width="1.75"/>
<line x1="504" y1="760.2" x2="741" y2="760.2" stroke-width="1.6"/>
<line x1="516.5" y1="542.5" x2="516.5" y2="760" stroke-width="1.45"/>
<path d="M516.50,542.50 L520.40,556.50 L512.60,556.50 Z" class="ah"/>
<path d="M516.50,760.00 L512.60,746.00 L520.40,746.00 Z" class="ah"/>
<text class="t" transform="translate(506.5,651.5) rotate(-90) scale(0.95,1)" font-size="22.5" text-anchor="middle">234</text>
<line x1="553" y1="557.9" x2="741" y2="557.9" stroke-width="1.75"/>
<line x1="553" y1="757.3" x2="741" y2="757.3" stroke-width="1.2"/>
<line x1="568.5" y1="558.5" x2="568.5" y2="757.5" stroke-width="1.45"/>
<path d="M568.50,558.50 L572.40,572.50 L564.60,572.50 Z" class="ah"/>
<path d="M568.50,650.00 L564.60,636.00 L572.40,636.00 Z" class="ah"/>
<path d="M568.50,650.00 L572.40,664.00 L564.60,664.00 Z" class="ah"/>
<path d="M568.50,757.50 L564.60,743.50 L572.40,743.50 Z" class="ah"/>
<text class="t" transform="translate(557.8,605) rotate(-90) scale(0.95,1)" font-size="22.5" text-anchor="middle">113</text>
<text class="t" transform="translate(556.8,706) rotate(-90) scale(0.95,1)" font-size="22.5" text-anchor="middle">121</text>
<line x1="560" y1="650.8" x2="649" y2="650.8" stroke-width="1.3" stroke-dasharray="50 3.5 5.5 4" stroke-dashoffset="34"/>
<line x1="686" y1="650.8" x2="900" y2="650.8" stroke-width="1.3" stroke-dasharray="50 3.5 5.5 4" stroke-dashoffset="34"/>
<line x1="682.3" y1="587" x2="682.3" y2="714" stroke-width="1.9"/>
<path d="M682.40,587.00 L686.30,601.00 L678.50,601.00 Z" class="ah"/>
<path d="M682.40,714.00 L678.50,700.00 L686.30,700.00 Z" class="ah"/>
<line x1="674" y1="587" x2="708" y2="587" stroke-width="1.3"/>
<line x1="674" y1="714" x2="708" y2="714" stroke-width="1.3"/>
<text class="t" transform="translate(672.8,651) rotate(-90) scale(0.95,1)" font-size="22.5" text-anchor="middle">90</text>
<line x1="704" y1="714" x2="704" y2="811" stroke-width="1.9"/>
<line x1="851.6" y1="650" x2="851.6" y2="811" stroke-width="1.3"/>
<line x1="663" y1="801" x2="851" y2="801" stroke-width="1.75"/>
<path d="M704.00,801.00 L693.00,804.00 L693.00,798.00 Z" class="ah"/>
<path d="M741.50,801.00 L755.50,797.10 L755.50,804.90 Z" class="ah"/>
<path d="M851.60,801.00 L837.60,804.90 L837.60,797.10 Z" class="ah"/>
<text class="t" transform="translate(681.5,796.9) scale(0.95,1)" font-size="22.5" text-anchor="middle">50</text>
<text class="t" transform="translate(794.5,796.9) scale(0.95,1)" font-size="22.5" text-anchor="middle">40</text>
<line x1="741.5" y1="838.6" x2="872.4" y2="838.6" stroke-width="1.75"/>
<path d="M741.50,838.60 L755.50,834.70 L755.50,842.50 Z" class="ah"/>
<path d="M872.40,838.60 L858.40,842.50 L858.40,834.70 Z" class="ah"/>
<text class="t" transform="translate(801,833.9) scale(0.95,1)" font-size="22.5" text-anchor="middle">160</text>
<line x1="609.2" y1="690" x2="609.2" y2="895" stroke-width="1.3"/>
<line x1="872.4" y1="690" x2="872.4" y2="895" stroke-width="1.3"/>
<line x1="609" y1="884" x2="872.4" y2="884" stroke-width="1.75"/>
<path d="M609.00,884.00 L623.00,880.10 L623.00,887.90 Z" class="ah"/>
<path d="M872.40,884.00 L858.40,887.90 L858.40,880.10 Z" class="ah"/>
<text class="t" transform="translate(737.5,873.4) scale(0.95,1)" font-size="22.5" text-anchor="middle">320</text>
<line x1="577" y1="631" x2="594" y2="631" stroke-width="2.2"/>
<path d="M605.00,631.00 L592.50,634.70 L592.50,627.30 Z" class="ah"/>
<line x1="913" y1="631" x2="929" y2="631" stroke-width="2.2"/>
<path d="M940.00,631.00 L927.50,634.70 L927.50,627.30 Z" class="ah"/>
</g>
</svg>
</body>
</html>
